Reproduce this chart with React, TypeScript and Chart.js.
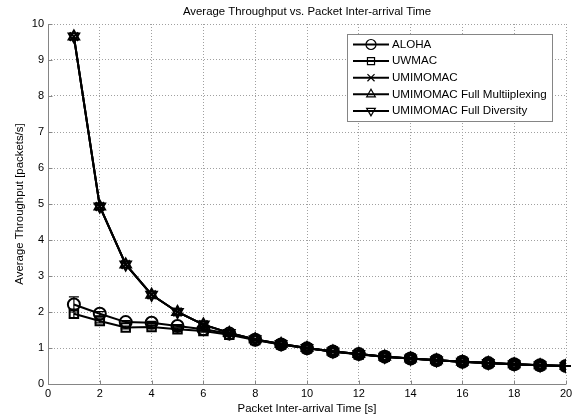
import React, { useEffect, useRef } from 'react';
import { Chart, registerables } from 'chart.js';
import { drawPoint } from 'chart.js/helpers';

Chart.register(...registerables);

const xValues = [1, 2, 3, 4, 5, 6, 7, 8, 9, 10, 11, 12, 13, 14, 15, 16, 17, 18, 19, 20];
const aloha = [2.21, 1.95, 1.72, 1.70, 1.61, 1.52, 1.40, 1.23, 1.10, 0.99, 0.90, 0.83, 0.76, 0.71, 0.66, 0.62, 0.58, 0.55, 0.52, 0.50];
const alohaErr = [0.21, 0.06, 0.04, 0.04, 0.03, 0.03, 0.02, 0.02, 0.02, 0.01, 0.01, 0.01, 0.01, 0.01, 0.01, 0.01, 0.01, 0.01, 0.01, 0.01];
const uwmac = [1.95, 1.75, 1.57, 1.58, 1.52, 1.47, 1.37, 1.22, 1.10, 0.99, 0.90, 0.82, 0.76, 0.71, 0.66, 0.62, 0.58, 0.55, 0.52, 0.50];
const uwmacErr = [0.11, 0.05, 0.04, 0.04, 0.03, 0.03, 0.02, 0.02, 0.02, 0.01, 0.01, 0.01, 0.01, 0.01, 0.01, 0.01, 0.01, 0.01, 0.01, 0.01];
const umimomac = [9.65, 4.93, 3.32, 2.48, 2.00, 1.65, 1.42, 1.24, 1.11, 1.00, 0.90, 0.83, 0.76, 0.71, 0.66, 0.62, 0.58, 0.55, 0.52, 0.50];
const umimomacMux = [9.65, 4.93, 3.32, 2.48, 2.00, 1.65, 1.42, 1.24, 1.11, 1.00, 0.90, 0.83, 0.76, 0.71, 0.66, 0.62, 0.58, 0.55, 0.52, 0.50];
const umimomacDiv = [9.65, 4.93, 3.32, 2.48, 2.00, 1.65, 1.42, 1.24, 1.11, 1.00, 0.90, 0.83, 0.76, 0.71, 0.66, 0.62, 0.58, 0.55, 0.52, 0.50];

const seriesLabels = ['ALOHA', 'UWMAC', 'UMIMOMAC', 'UMIMOMAC Full Multiiplexing', 'UMIMOMAC Full Diversity'];
const seriesValues = [aloha, uwmac, umimomac, umimomacMux, umimomacDiv];
const seriesErrors = [alohaErr, uwmacErr, null, null, null];
const pointStyles = ['circle', 'rect', 'crossRot', 'triangle', 'triangle'];
const pointRotations = [0, 0, 0, 0, 180];

const titleText = 'Average Throughput vs. Packet Inter-arrival Time';
const xTitle = 'Packet Inter-arrival Time [s]';
const yTitle = 'Average Throughput [packets/s]';

const FONT = 'Liberation Sans, Arial, sans-serif';
const AXIS_GREY = '#858585';

export default function App() {
  const ref = useRef<HTMLCanvasElement>(null);

  useEffect(() => {
    const canvas = ref.current;
    if (!canvas) return;

    const datasets = seriesValues.map((vals, i) => ({
      label: seriesLabels[i],
      data: vals.map((v, j) => ({ x: xValues[j], y: v })),
      borderColor: '#000',
      borderWidth: 2,
      backgroundColor: 'rgba(0,0,0,0)',
      pointStyle: pointStyles[i] as any,
      pointRotation: pointRotations[i],
      pointRadius: 6,
      pointBorderWidth: 2,
      pointBorderColor: '#000',
      pointBackgroundColor: 'rgba(0,0,0,0)',
      tension: 0,
      fill: false,
    }));

    const overlay = {
      id: 'overlay',
      beforeDatasetsDraw(chart: any) {
        const { ctx, scales } = chart;
        ctx.save();
        ctx.strokeStyle = '#000';
        ctx.lineWidth = 1.2;
        seriesErrors.forEach((err, i) => {
          if (!err) return;
          err.forEach((e, j) => {
            const x = scales.x.getPixelForValue(xValues[j]);
            const y1 = scales.y.getPixelForValue(seriesValues[i][j] - e);
            const y2 = scales.y.getPixelForValue(seriesValues[i][j] + e);
            ctx.beginPath();
            ctx.moveTo(x, y1); ctx.lineTo(x, y2);
            ctx.moveTo(x - 5, y1); ctx.lineTo(x + 5, y1);
            ctx.moveTo(x - 5, y2); ctx.lineTo(x + 5, y2);
            ctx.stroke();
          });
        });
        ctx.restore();
      },
      afterDraw(chart: any) {
        const { ctx, chartArea: a } = chart;
        ctx.save();
        const L = Math.round(a.left) + 0.5;
        const B = Math.round(a.bottom) + 0.5;
        ctx.strokeStyle = AXIS_GREY;
        ctx.lineWidth = 1;
        ctx.beginPath();
        ctx.moveTo(L, a.top); ctx.lineTo(L, B); ctx.lineTo(a.right, B);
        const xs = chart.scales.x, ys = chart.scales.y;
        xs.ticks.forEach((t: any) => {
          const x = Math.round(xs.getPixelForValue(t.value)) + 0.5;
          ctx.moveTo(x, B); ctx.lineTo(x, B - 4);
        });
        ys.ticks.forEach((t: any) => {
          const y = Math.round(ys.getPixelForValue(t.value)) + 0.5;
          ctx.moveTo(L, y); ctx.lineTo(L + 4, y);
        });
        ctx.stroke();
        ctx.fillStyle = '#000';
        ctx.font = `11.4px ${FONT}`;
        ctx.textAlign = 'center';
        ctx.textBaseline = 'middle';
        ctx.fillText(titleText, (a.left + a.right) / 2, 12);
        const bx = 347, by = 34, bw = 205, bh = 87;
        ctx.fillStyle = '#fff';
        ctx.fillRect(bx, by, bw, bh);
        ctx.strokeStyle = AXIS_GREY;
        ctx.lineWidth = 1;
        ctx.strokeRect(bx + 0.5, by + 0.5, bw, bh);
        seriesLabels.forEach((lab, i) => {
          const y = 44.5 + i * 16.6;
          ctx.strokeStyle = '#000';
          ctx.lineWidth = 2;
          ctx.beginPath();
          ctx.moveTo(353, y); ctx.lineTo(389, y);
          ctx.stroke();
          ctx.lineWidth = 1.2;
          ctx.fillStyle = 'rgba(0,0,0,0)';
          drawPoint(ctx, { pointStyle: pointStyles[i] as any, rotation: pointRotations[i], radius: 5, borderWidth: 1.2 }, 371, y);
          ctx.fillStyle = '#000';
          ctx.font = `11.6px ${FONT}`;
          ctx.textAlign = 'left';
          ctx.textBaseline = 'middle';
          ctx.fillText(lab, 392, y);
        });
        ctx.restore();
      },
    };

    const tickFont = { family: FONT, size: 11 };
    const titleFont = { family: FONT, size: 11.4 };
    const chart = new Chart(canvas, {
      type: 'line',
      data: { datasets: datasets as any },
      options: {
        animation: false,
        responsive: false,
        maintainAspectRatio: false,
        layout: { padding: { top: 24, right: 18, left: 0, bottom: 0 } },
        plugins: {
          legend: { display: false },
          title: { display: false },
          tooltip: { enabled: false },
        },
        scales: {
          x: {
            type: 'linear',
            min: 0,
            max: 20,
            ticks: { stepSize: 2, color: '#000', font: tickFont, padding: 3, maxRotation: 0 },
            grid: { color: '#a0a0a0', drawTicks: false, lineWidth: 1 },
            border: { display: false, dash: [1, 2] },
            title: { display: true, text: xTitle, color: '#000', font: titleFont, padding: { top: 0, bottom: 4 } },
            afterFit: (s: any) => { s.height = 36; },
          },
          y: {
            type: 'linear',
            min: 0,
            max: 10,
            ticks: { stepSize: 1, color: '#000', font: tickFont, padding: 4 },
            grid: { color: '#a0a0a0', drawTicks: false, lineWidth: 1 },
            border: { display: false, dash: [1, 2] },
            title: { display: true, text: yTitle, color: '#000', font: titleFont, padding: { top: 13, bottom: 0 } },
            afterFit: (s: any) => { s.width = 48; },
          },
        },
      },
      plugins: [overlay],
    });

    return () => chart.destroy();
  }, []);

  return (
    <div style={{ position: 'absolute', left: 0, top: 0, width: 584, height: 420, background: '#fff' }}>
      <canvas ref={ref} width={584} height={420} style={{ width: 584, height: 420 }} />
    </div>
  );
}
